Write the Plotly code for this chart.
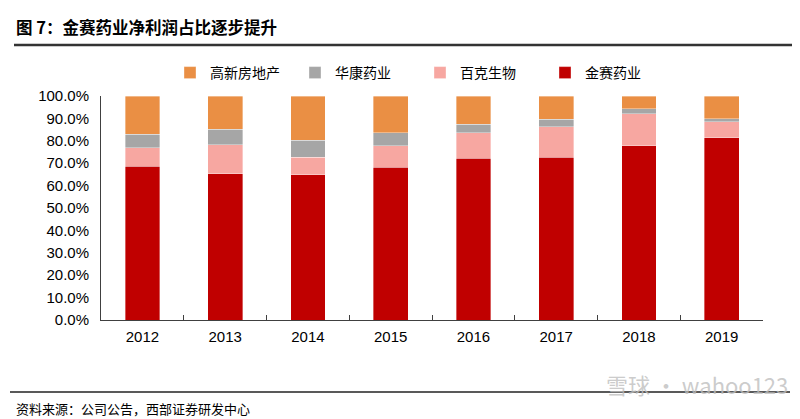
import plotly.graph_objects as go

years = ["2012", "2013", "2014", "2015", "2016", "2017", "2018", "2019"]
jinsai = [68.7, 65.4, 64.9, 68.2, 72.2, 72.7, 77.9, 81.3]
baike = [8.3, 12.8, 7.8, 9.7, 11.3, 13.6, 14.1, 7.1]
huakang = [5.9, 7.0, 7.5, 5.6, 3.9, 3.3, 2.4, 1.5]
gaoxin = [17.1, 14.8, 19.8, 16.5, 12.6, 10.4, 5.6, 10.1]

series = [
    ("金赛药业", jinsai, "#C00000"),
    ("百克生物", baike, "#F7A7A1"),
    ("华康药业", huakang, "#A6A6A6"),
    ("高新房地产", gaoxin, "#EA8F44"),
]

FONT = "Liberation Sans, Arial, Noto Sans CJK SC, sans-serif"
CJK = "Noto Sans CJK SC, Liberation Sans, sans-serif"

# page body has an 8px margin; work in screen coordinates and offset
OFF = 8
W, H = 800 - OFF, 419 - OFF
L, R, T, B = 101 - OFF, 37, 96 - OFF, 99
pw = W - L - R
ph = H - T - B


def px(x):
    return (x - OFF - L) / pw


def py(y):
    return (H - B - (y - OFF)) / ph


fig = go.Figure()
for name, vals, col in series:
    fig.add_trace(go.Bar(
        x=years, y=vals, name=name,
        marker=dict(color=col, line=dict(width=0.6, color="rgba(255,255,255,0.6)")),
        width=0.42,
    ))

fig.update_layout(
    width=W, height=H,
    barmode="stack",
    margin=dict(l=L, r=R, t=T, b=B),
    paper_bgcolor="white", plot_bgcolor="white",
    font=dict(family=FONT, size=15, color="#000000"),
    showlegend=True,
    legend=dict(
        orientation="h", traceorder="reversed",
        x=px(170), y=py(73), xanchor="left", yanchor="middle",
        font=dict(family=CJK, size=14, color="#000000"),
        entrywidth=80, itemwidth=30,
        bgcolor="rgba(0,0,0,0)",
    ),
    xaxis=dict(
        type="category",
        showline=True, linecolor="#404040", linewidth=1,
        ticks="inside", ticklen=5, tickcolor="#404040",
        tickson="boundaries",
        ticklabelstandoff=3,
        tickfont=dict(family=FONT, size=15, color="#000000"),
        showgrid=False,
    ),
    yaxis=dict(
        range=[0, 100], dtick=10, tickformat=".1f", ticksuffix="%",
        showline=True, linecolor="#404040", linewidth=1,
        ticks="", showgrid=False, zeroline=False,
        ticklabelstandoff=8,
        tickfont=dict(family=FONT, size=15, color="#000000"),
    ),
)

fig.add_annotation(
    text="<b>图 7：金赛药业净利润占比逐步提升</b>",
    xref="paper", yref="paper", x=px(14), y=py(27),
    xanchor="left", yanchor="middle", showarrow=False,
    font=dict(family=CJK, size=16.5, color="#000000"),
)
fig.add_annotation(
    text="资料来源：公司公告，西部证券研发中心",
    xref="paper", yref="paper", x=px(14), y=py(408),
    xanchor="left", yanchor="middle", showarrow=False,
    font=dict(family=CJK, size=13, color="#000000"),
)
fig.add_annotation(
    text="雪球 · wahoo123",
    xref="paper", yref="paper", x=px(790), y=py(384),
    xanchor="right", yanchor="middle", showarrow=False,
    font=dict(family=CJK, size=22, color="rgba(190,190,190,0.8)"),
)

fig.add_shape(type="line", xref="paper", yref="paper",
              x0=px(14), x1=px(800), y0=py(45), y1=py(45),
              line=dict(color="#333333", width=2.5))
fig.add_shape(type="line", xref="paper", yref="paper",
              x0=px(10), x1=px(790), y0=py(392), y1=py(392),
              line=dict(color="#222222", width=1.5))

fig.write_html("out.html")
